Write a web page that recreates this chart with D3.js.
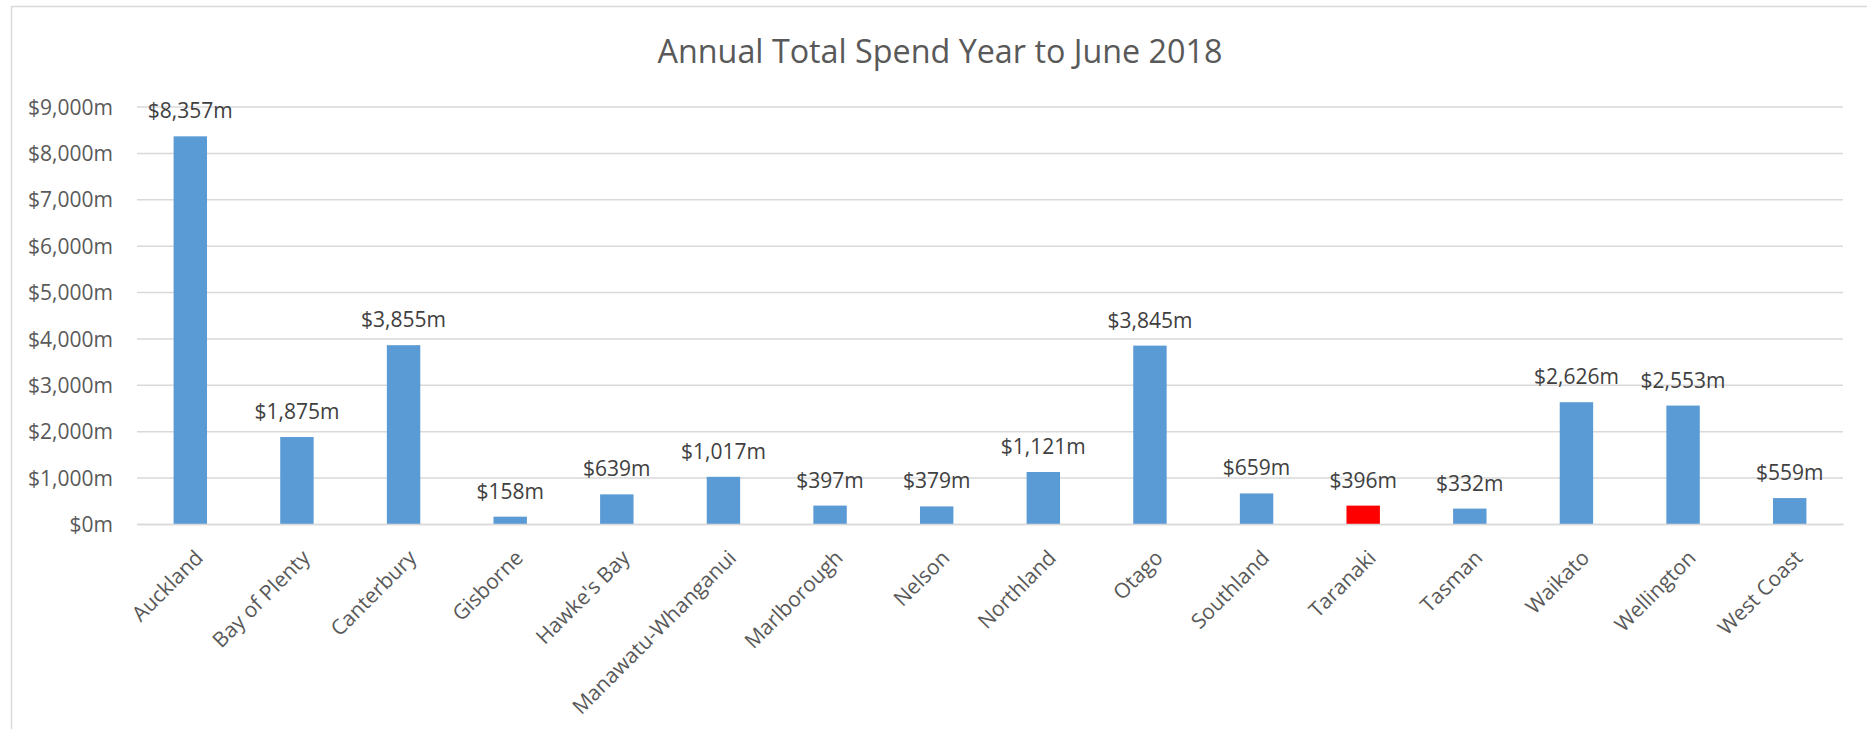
<!DOCTYPE html>
<html>
<head>
<meta charset="utf-8">
<script src="https://cdn.jsdelivr.net/npm/d3@7"></script>
<style>
  body { margin: 0; background: #fff; }
  svg text { font-family: 'Open Sans', sans-serif; }
</style>
</head>
<body>
<svg id="chart" width="1867" height="729"></svg>
<script>
'use strict';

const regions = ['Auckland', 'Bay of Plenty', 'Canterbury', 'Gisborne', "Hawke's Bay",
  'Manawatu-Whanganui', 'Marlborough', 'Nelson', 'Northland', 'Otago', 'Southland',
  'Taranaki', 'Tasman', 'Waikato', 'Wellington', 'West Coast'];
const spend = [8357, 1875, 3855, 158, 639, 1017, 397, 379, 1121, 3845, 659, 396, 332, 2626, 2553, 559];
const highlighted = ['Taranaki'];
const yTicks = [0, 1000, 2000, 3000, 4000, 5000, 6000, 7000, 8000, 9000];
const title = 'Annual Total Spend Year to June 2018';

const svg = d3.select('#chart');
const margin = {left: 137, right: 1843, top: 106.5, bottom: 524};

// chart area frame (runs off the right and bottom of the picture)
svg.append('rect')
  .attr('x', 11.5).attr('y', 6.5)
  .attr('width', 1900).attr('height', 800)
  .attr('fill', 'none')
  .attr('stroke', '#d9d9d9')
  .attr('stroke-width', 1.5);

const x = d3.scaleBand()
  .domain(regions)
  .range([margin.left, margin.right])
  .paddingInner(2.19 / 3.19)
  .paddingOuter(2.19 / 3.19 / 2);

const y = d3.scaleLinear()
  .domain([0, 9000])
  .range([margin.bottom, margin.top]);

const fmt = d3.format(',');
const money = d => '$' + fmt(d) + 'm';

// gridlines + y labels
const yAxis = d3.axisLeft(y)
  .tickValues(yTicks)
  .tickSize(-(margin.right - margin.left))
  .tickPadding(24)
  .tickFormat(money);

const gy = svg.append('g')
  .attr('transform', `translate(${margin.left},0)`)
  .call(yAxis);
gy.select('.domain').remove();
gy.selectAll('.tick line').attr('stroke', '#d9d9d9').attr('stroke-width', 1.5);
gy.selectAll('.tick text')
  .attr('fill', '#595959')
  .attr('font-size', 21)
  .attr('dy', '0.36em');

// bars
svg.append('g')
  .selectAll('rect')
  .data(regions)
  .join('rect')
  .attr('x', d => x(d))
  .attr('y', (d, i) => y(spend[i]))
  .attr('width', x.bandwidth())
  .attr('height', (d, i) => y(0) - y(spend[i]))
  .attr('fill', d => highlighted.includes(d) ? '#ff0000' : '#5b9bd5');

// data labels
svg.append('g')
  .selectAll('text')
  .data(regions)
  .join('text')
  .attr('x', d => x(d) + x.bandwidth() / 2)
  .attr('y', (d, i) => y(spend[i]) - 18)
  .attr('text-anchor', 'middle')
  .attr('font-size', 21)
  .attr('fill', '#404040')
  .text((d, i) => money(spend[i]));

// category labels
const xAxis = d3.axisBottom(x).tickSize(0).tickPadding(0);
const gx = svg.append('g')
  .attr('transform', `translate(0,${margin.bottom})`)
  .call(xAxis);
gx.select('.domain').attr('stroke', '#d9d9d9').attr('stroke-width', 1.5);
gx.selectAll('.tick text')
  .attr('font-size', 21)
  .attr('fill', '#595959')
  .attr('text-anchor', 'end')
  .attr('dy', '0.75em')
  .attr('y', 0)
  .attr('transform', 'translate(3,24) rotate(-45)');

// title, sized to the reference width
const t = svg.append('text')
  .attr('x', 940)
  .attr('y', 63)
  .attr('text-anchor', 'middle')
  .attr('fill', '#595959')
  .attr('font-size', 29)
  .text(title);
const w = t.node().getComputedTextLength();
t.attr('font-size', 29 * 565 / w);
</script>
</body>
</html>
